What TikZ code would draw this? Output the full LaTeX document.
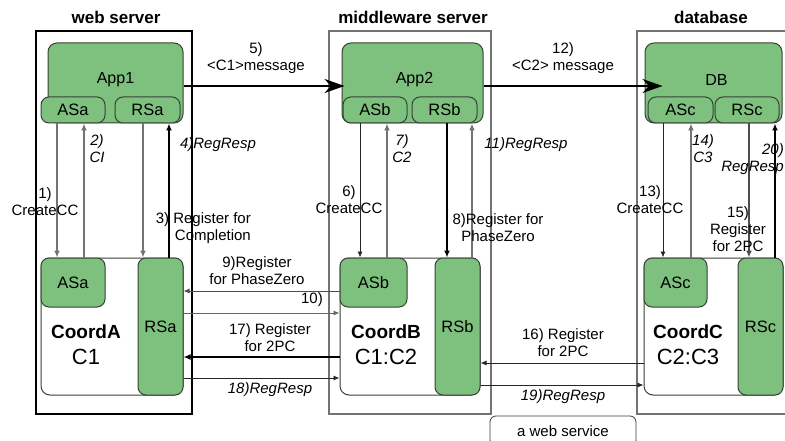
\documentclass[tikz,border=0pt]{standalone}
\usepackage{fontspec}
\setmainfont{Liberation Sans}
\usetikzlibrary{arrows.meta}

\definecolor{appgreen}{RGB}{126,192,126}
\definecolor{edgegray}{RGB}{55,65,55}
\definecolor{linegray}{RGB}{115,115,115}

\tikzset{
	server/.style={draw=linegray,line width=1.2pt},
	app/.style={draw=edgegray,fill=appgreen,rounded corners=9pt,line width=1pt,inner sep=0pt},
	applbl/.style={font=\fontsize{16}{18}\selectfont,inner sep=0pt},
	part/.style={draw=edgegray,fill=appgreen,rounded corners=8pt,line width=1pt,inner sep=0pt,
		font=\fontsize{16.5}{18}\selectfont},
	coord/.style={draw=edgegray,fill=white,rounded corners=9pt,line width=1pt,inner sep=0pt},
	cname/.style={align=center,inner sep=0pt,font=\fontsize{22}{26}\selectfont},
	title/.style={font=\fontsize{17}{19}\selectfont\bfseries,inner sep=0pt},
	lbl/.style={font=\fontsize{15}{17}\selectfont,align=center,inner sep=0pt},
	ilbl/.style={lbl,font=\fontsize{15}{17}\selectfont\itshape},
	lnk/.style={line width=0.9pt,draw=black!85,-{Latex[length=6pt,width=5pt]}},
	glnk/.style={line width=1.8pt,draw=linegray,-{Latex[length=7pt,width=6pt]}},
	blnk/.style={line width=1.6pt,draw=black,-{Latex[length=7pt,width=6pt]}},
	msg/.style={line width=2.2pt,-{Stealth[length=20pt,width=14pt]}},
}

\begin{document}
\begin{tikzpicture}[x=1pt,y=-1pt]
	\useasboundingbox (0,0) rectangle (785,441);

	% the three servers
	\draw[server,draw=black] (36,31) rectangle (192,414);
	\draw[server] (329,31) rectangle (491,414);
	\draw[server] (790,31) -- (637,31) -- (637,414) -- (790,414);
	\node[title] (tA) at (116,17) {web server};
	\node[title] (tB) at (413,17) {middleware server};
	\node[title] (tC) at (711,17) {database};
	\node[draw=edgegray,line width=0.8pt,rounded corners=6pt,minimum width=146pt,minimum height=30pt,lbl] (ws) at (563,431) {a web service};

	% applications
	\node[app,minimum width=135pt,minimum height=80pt,label={[applbl,yshift=3pt]center:App1}] (App1) at (115.5,83) {};
	\node[part,minimum width=64pt,minimum height=26pt] (ASa1) at (73,110) {ASa};
	\node[part,minimum width=65pt,minimum height=26pt] (RSa1) at (147.5,110) {RSa};
	\node[app,minimum width=141pt,minimum height=80pt,label={[applbl,yshift=3pt,xshift=2pt]center:App2}] (App2) at (412.5,83) {};
	\node[part,minimum width=64pt,minimum height=26pt] (ASb1) at (375,110) {ASb};
	\node[part,minimum width=65pt,minimum height=26pt] (RSb1) at (444.5,110) {RSb};
	\node[app,minimum width=137pt,minimum height=80pt,label={[applbl,yshift=3pt,xshift=3pt]center:DB}] (DB) at (713.5,83) {};
	\node[part,minimum width=65pt,minimum height=26pt] (ASc1) at (680.5,110) {ASc};
	\node[part,minimum width=64pt,minimum height=26pt] (RSc1) at (747,110) {RSc};

	% coordinators
	\node[coord,minimum width=142pt,minimum height=137pt] (CoordA) at (112,326.5) {};
	\node[part,minimum width=64pt,minimum height=49pt] (ASa2) at (73,282.5) {ASa};
	\node[part,minimum width=45pt,minimum height=137pt] (RSa2) at (160.5,326.5) {RSa};
	\node[cname] (nA) at (86,345) {{\fontsize{19}{22}\selectfont\bfseries CoordA}\\C1};
	\node[coord,minimum width=140pt,minimum height=137pt] (CoordB) at (410,326.5) {};
	\node[part,minimum width=67pt,minimum height=49pt] (ASb2) at (373.5,282.5) {ASb};
	\node[part,minimum width=45pt,minimum height=137pt] (RSb2) at (457.5,326.5) {RSb};
	\node[cname] (nB) at (386,345) {{\fontsize{19}{22}\selectfont\bfseries CoordB}\\C1:C2};
	\node[coord,minimum width=139pt,minimum height=137pt] (CoordC) at (713.5,326.5) {};
	\node[part,minimum width=63pt,minimum height=49pt] (ASc2) at (675.5,282.5) {ASc};
	\node[part,minimum width=45pt,minimum height=137pt] (RSc2) at (760.5,326.5) {RSc};
	\node[cname] (nC) at (688,345) {{\fontsize{19}{22}\selectfont\bfseries CoordC}\\C2:C3};

	% messages between the servers
	\draw[msg] ([yshift=-3pt]App1.east) -- ([xshift=3pt,yshift=-3pt]App2.west);
	\draw[msg] ([yshift=-3pt]App2.east) -- ([xshift=18pt,yshift=-3pt]DB.west);

	% web server
	\draw[glnk] ([xshift=-16pt]ASa1.south) -- ([xshift=-16pt]ASa2.north);
	\draw[glnk] ([xshift=11pt]ASa2.north) -- ([xshift=11pt]ASa1.south);
	\draw[glnk] ([xshift=-4.5pt]RSa1.south) -- ([xshift=-17.5pt]RSa2.north);
	\draw[blnk] ([xshift=8.5pt]RSa2.north) -- ([xshift=21.5pt]RSa1.south);

	% middleware server
	\draw[lnk] ([xshift=-15pt]ASb1.south) -- ([xshift=-13.5pt]ASb2.north);
	\draw[glnk] ([xshift=13.5pt]ASb2.north) -- ([xshift=12pt]ASb1.south);
	\draw[blnk,line width=1.3pt] ([xshift=2.5pt]RSb1.south) -- ([xshift=-10.5pt]RSb2.north);
	\draw[glnk] ([xshift=14.5pt]RSb2.north) -- ([xshift=27.5pt]RSb1.south);

	% database
	\draw[lnk] ([xshift=-17.5pt]ASc1.south) -- ([xshift=-12.5pt]ASc2.north);
	\draw[glnk] ([xshift=15.5pt]ASc2.north) -- ([xshift=10.5pt]ASc1.south);
	\draw[glnk,draw=black!70] ([xshift=2pt]RSc1.south) -- ([xshift=-11.5pt]RSc2.north);
	\draw[blnk,line width=2.2pt] ([xshift=14.5pt]RSc2.north) -- ([xshift=28pt]RSc1.south);

	% registration between coordinators
	\draw[lnk,draw=black!70] ([yshift=-8.5pt]ASb2.west) -- ([yshift=35.5pt]RSa2.east);
	\draw[lnk,draw=black!60] ([yshift=13.5pt]RSa2.east) -- ([yshift=13.5pt]CoordB.west);
	\draw[blnk] ([yshift=-30.5pt]CoordB.west) -- ([yshift=-30.5pt]RSa2.east);
	\draw[lnk] ([yshift=-51.5pt]RSa2.east) -- ([yshift=-51.5pt]CoordB.west);
	\draw[lnk] ([yshift=-36.5pt]CoordC.west) -- ([yshift=-36.5pt]RSb2.east);
	\draw[lnk] ([yshift=-58.5pt]RSb2.east) -- ([yshift=-58.5pt]CoordC.west);

	% labels
	\node[lbl] (l5) at (256,58) {5)\\<C1>message};
	\node[lbl] (l12) at (563,58) {12)\\<C2> message};
	\node[lbl] (l1) at (45,202) {1)\\CreateCC};
	\node[ilbl] (l2) at (97,149) {2)\\CI};
	\node[lbl,align=right,anchor=east] (l3) at (251,228) {3) Register for\\Completion};
	\node[ilbl] (l4) at (218,145) {4)RegResp};
	\node[lbl] (l6) at (349,200) {6)\\CreateCC};
	\node[ilbl] (l7) at (402,149) {7)\\C2};
	\node[lbl] (l8) at (498,228) {8)Register for\\PhaseZero};
	\node[ilbl] (l11) at (526,145) {11)RegResp};
	\node[lbl] (l13) at (650,200) {13)\\CreateCC};
	\node[ilbl] (l14) at (703,149) {14)\\C3};
	\node[lbl] (l15) at (738,229) {15)\\Register\\for 2PC};
	\node[ilbl,align=right,anchor=east] (l20) at (784,159) {20)\\RegResp};
	\node[lbl] (l9) at (257,271) {9)Register\\for PhaseZero};
	\node[lbl,anchor=east] (l10) at (323,300) {10)};
	\node[lbl] (l17) at (270,338) {17) Register\\for 2PC};
	\node[ilbl] (l18) at (270,390) {18)RegResp};
	\node[lbl] (l16) at (563,343) {16) Register\\for 2PC};
	\node[ilbl] (l19) at (563,397) {19)RegResp};
\end{tikzpicture}
\end{document}
